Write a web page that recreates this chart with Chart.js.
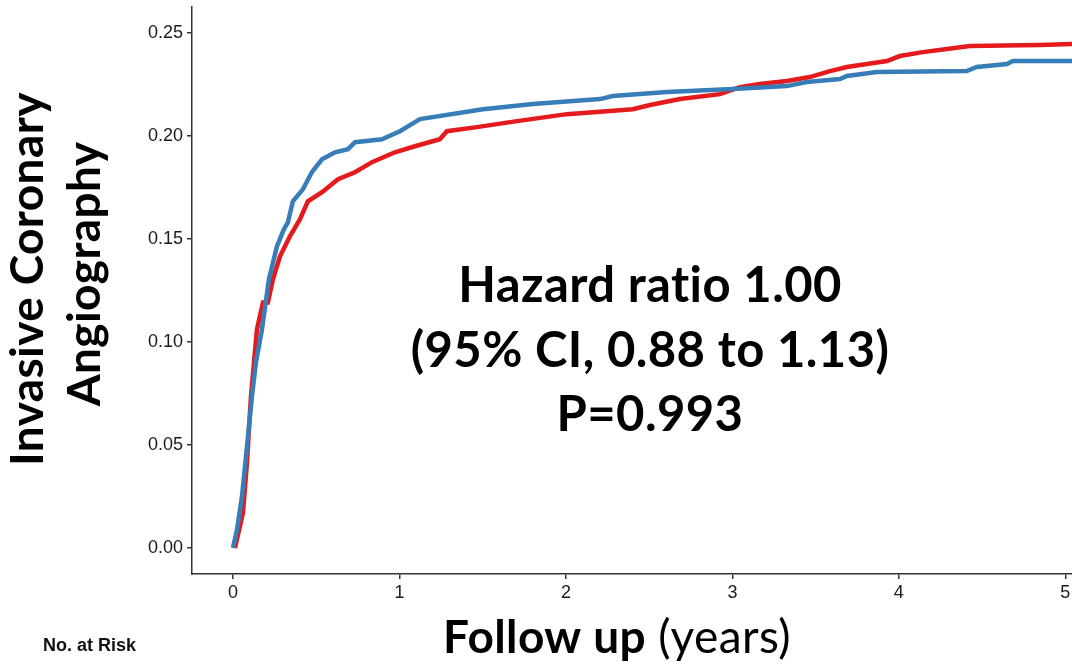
<!DOCTYPE html>
<html>
<head>
<meta charset="utf-8">
<script src="https://cdn.jsdelivr.net/npm/chart.js@4"></script>
<style>
html,body{margin:0;padding:0;background:#fff;}
#wrap{width:1072px;height:664px;position:relative;}
</style>
</head>
<body>
<div id="wrap"><canvas id="c"></canvas></div>
<script>
// ---- data ----
const blueT = [0, 0.024, 0.054, 0.084, 0.114, 0.138, 0.174, 0.216, 0.264, 0.306, 0.330, 0.360, 0.420, 0.474, 0.535, 0.613, 0.691, 0.733, 0.895, 1.003, 1.123, 1.502, 1.802, 2.204, 2.282, 2.607, 3.003, 3.327, 3.447, 3.646, 3.688, 3.868, 4.408, 4.468, 4.649, 4.685, 5.04];
const blueV = [0, 0.0088, 0.0248, 0.0491, 0.0734, 0.0900, 0.1060, 0.1304, 0.1464, 0.1547, 0.1581, 0.1683, 0.1741, 0.1824, 0.1887, 0.1921, 0.1936, 0.1970, 0.1984, 0.2023, 0.2082, 0.2130, 0.2155, 0.2179, 0.2194, 0.2213, 0.2228, 0.2242, 0.2262, 0.2276, 0.2291, 0.2310, 0.2315, 0.2335, 0.2349, 0.2364, 0.2364];
const redT = [0.012, 0.060, 0.084, 0.108, 0.144, 0.180, 0.210, 0.240, 0.282, 0.342, 0.402, 0.450, 0.535, 0.631, 0.733, 0.835, 0.973, 1.093, 1.243, 1.285, 1.465, 1.706, 2.006, 2.402, 2.505, 2.685, 2.925, 3.045, 3.165, 3.327, 3.465, 3.586, 3.688, 3.808, 3.928, 4.006, 4.144, 4.288, 4.426, 4.847, 5.04];
const redV = [0, 0.0170, 0.0413, 0.0734, 0.1060, 0.1192, 0.1192, 0.1304, 0.1415, 0.1513, 0.1595, 0.1683, 0.1727, 0.1790, 0.1824, 0.1873, 0.1921, 0.1950, 0.1984, 0.2023, 0.2043, 0.2072, 0.2106, 0.2130, 0.2150, 0.2179, 0.2203, 0.2237, 0.2252, 0.2267, 0.2286, 0.2315, 0.2335, 0.2349, 0.2364, 0.2388, 0.2407, 0.2422, 0.2437, 0.2442, 0.2447];
const xTicks = [0, 1, 2, 3, 4, 5];
const yTicks = [0, 0.05, 0.10, 0.15, 0.20, 0.25];
const yTitleLines = ["Invasive Coronary", "Angiography"];
const xTitleBold = "Follow up";
const xTitleRest = " (years)";
const annotationLines = ["Hazard ratio 1.00", "(95% CI, 0.88 to 1.13)", "P=0.993"];
const riskLabel = "No. at Risk";

const toXY = (t, v) => t.map((x, i) => ({x: x, y: v[i]}));

const TITLE_FONT = '"Lato", "Open Sans", sans-serif';

const textPlugin = {
  id: 'texts',
  afterDraw(chart) {
    const ctx = chart.ctx;
    ctx.save();
    ctx.fillStyle = '#000';
    if ('letterSpacing' in ctx) ctx.letterSpacing = '0.4px';
    // annotation
    ctx.font = 'bold 49px ' + TITLE_FONT;
    ctx.textAlign = 'center';
    ctx.textBaseline = 'alphabetic';
    const ay = [302, 367, 431];
    annotationLines.forEach((s, i) => ctx.fillText(s, 650, ay[i]));
    // y title (rotated)
    ctx.save();
    ctx.rotate(-Math.PI / 2);
    ctx.textAlign = 'center';
    ctx.font = 'bold 46px ' + TITLE_FONT;
    ctx.fillText(yTitleLines[0], -279, 43);
    ctx.fillText(yTitleLines[1], -274, 100);
    ctx.restore();
    // x title
    ctx.textAlign = 'left';
    ctx.font = 'bold 46px ' + TITLE_FONT;
    const wb = ctx.measureText(xTitleBold).width;
    ctx.font = '46px ' + TITLE_FONT;
    const wr = ctx.measureText(xTitleRest).width;
    const x0 = 617 - (wb + wr) / 2;
    ctx.font = 'bold 46px ' + TITLE_FONT;
    ctx.fillText(xTitleBold, x0, 653);
    ctx.font = '46px ' + TITLE_FONT;
    ctx.fillText(xTitleRest, x0 + wb, 653);
    // No. at risk
    if ('letterSpacing' in ctx) ctx.letterSpacing = '0px';
    ctx.font = 'bold 18px "Liberation Sans", Arial, sans-serif';
    ctx.fillStyle = '#111';
    ctx.fillText(riskLabel, 43, 651);
    ctx.restore();
  }
};

new Chart(document.getElementById('c'), {
  type: 'line',
  data: {
    datasets: [
      {data: toXY(blueT, blueV), borderColor: '#377EB8', borderWidth: 4.5, pointRadius: 0, tension: 0, fill: false},
      {data: toXY(redT, redV), borderColor: '#E41A1C', borderWidth: 4.5, pointRadius: 0, tension: 0, fill: false}
    ]
  },
  options: {
    responsive: true,
    maintainAspectRatio: false,
    animation: false,
    events: [],
    layout: {padding: {top: 7, right: 0, left: 0, bottom: 0}},
    plugins: {legend: {display: false}, tooltip: {enabled: false}},
    scales: {
      x: {
        type: 'linear',
        min: -0.246,
        max: 5.04,
        afterBuildTicks: s => { s.ticks = xTicks.map(v => ({value: v})); },
        afterFit: s => { s.height = 90; s.paddingLeft = 0; s.paddingRight = 0; },
        ticks: {
          callback: v => String(v),
          font: {family: '"Liberation Sans", Arial, sans-serif', size: 18},
          color: '#1a1a1a',
          padding: 3,
          maxRotation: 0
        },
        grid: {display: true, drawOnChartArea: false, drawTicks: true, tickLength: 5, color: '#333', lineWidth: 1.5},
        border: {display: true, color: '#333', width: 1.5}
      },
      y: {
        type: 'linear',
        min: -0.0126,
        max: 0.2626,
        afterBuildTicks: s => { s.ticks = yTicks.map(v => ({value: v})); },
        afterFit: s => { s.width = 192; s.paddingTop = 0; s.paddingBottom = 0; },
        ticks: {
          callback: v => Number(v).toFixed(2),
          font: {family: '"Liberation Sans", Arial, sans-serif', size: 18},
          color: '#1a1a1a',
          padding: 4
        },
        grid: {display: true, drawOnChartArea: false, drawTicks: true, tickLength: 5, color: '#333', lineWidth: 1.5},
        border: {display: true, color: '#333', width: 1.5}
      }
    }
  },
  plugins: [textPlugin]
});
</script>
</body>
</html>
